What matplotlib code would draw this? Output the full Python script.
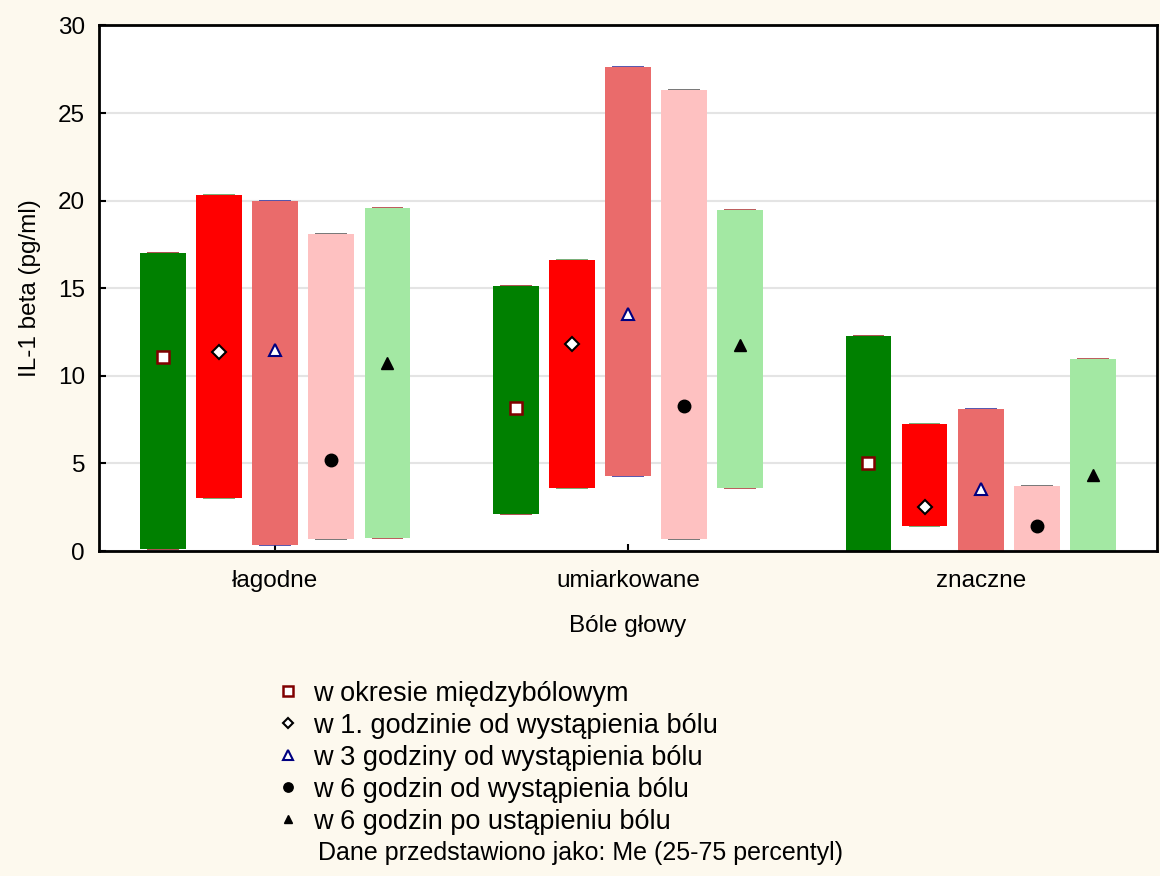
import numpy as np
import matplotlib
matplotlib.use('Agg')
import matplotlib.pyplot as plt

plt.rcParams['font.family'] = ['Liberation Sans', 'DejaVu Sans']

# Headache severity groups
groups = ['łagodne', 'umiarkowane', 'znaczne']

series_labels = [
    'w okresie międzybólowym',
    'w 1. godzinie od wystąpienia bólu',
    'w 3 godziny od wystąpienia bólu',
    'w 6 godzin od wystąpienia bólu',
    'w 6 godzin po ustąpieniu bólu',
]

# median, 25th and 75th percentile per series, one value per group
median = [
    [11.1, 8.15, 5.05],
    [11.35, 11.8, 2.5],
    [11.5, 13.5, 3.55],
    [5.2, 8.25, 1.4],
    [10.75, 11.75, 4.35],
]
p25 = [
    [0.1, 2.1, 0.0],
    [3.0, 3.6, 1.45],
    [0.35, 4.3, 0.0],
    [0.7, 0.7, 0.0],
    [0.75, 3.6, 0.0],
]
p75 = [
    [17.0, 15.1, 12.25],
    [20.3, 16.6, 7.25],
    [20.0, 27.6, 8.1],
    [18.1, 26.3, 3.7],
    [19.6, 19.45, 10.95],
]

bar_colors = ['#008000', '#ff0000', '#ea6b6b', '#fec1c1', '#a3e8a3']
cap_colors = ['#a03030', '#60a060', '#3a3aa0', '#606060', '#b04040']
marker_styles = [
    dict(marker='s', mfc='white', mec='#800000', ms=9, mew=1.8),
    dict(marker='D', mfc='white', mec='black', ms=7, mew=1.5),
    dict(marker='^', mfc='white', mec='#000080', ms=9, mew=1.5),
    dict(marker='o', mfc='black', mec='black', ms=9, mew=1),
    dict(marker='^', mfc='black', mec='black', ms=8, mew=1),
]

bg = '#fdf9ee'
fs = 17.5
fig = plt.figure(figsize=(11.6, 8.76), dpi=100, facecolor=bg)
ax = fig.add_axes([0.0853, 0.371, 0.9121, 0.600])
ax.set_facecolor('white')

x = np.arange(len(groups))
step = 0.159
width = 0.13
handles = []
for i in range(len(series_labels)):
    xs = x + (i - 2) * step
    lo = np.array(p25[i])
    hi = np.array(p75[i])
    # thin caps at the quartile ends, partly hidden behind the bar
    ax.hlines(np.concatenate([lo, hi]), np.tile(xs, 2) - 0.045, np.tile(xs, 2) + 0.045,
              colors=cap_colors[i], lw=1.2, zorder=1.5)
    ax.bar(xs, hi - lo, bottom=lo, width=width, color=bar_colors[i], zorder=2)
    ln, = ax.plot(xs, median[i], ls='none', zorder=3, label=series_labels[i],
                  **marker_styles[i])
    handles.append(ln)

ax.set_xlim(-0.5, 2.5)
ax.set_ylim(0, 30)
ax.set_yticks(np.arange(0, 31, 5))
ax.set_xticks(x)
ax.set_xticklabels(groups)
ax.yaxis.grid(True, color='#e4e4e4', lw=1.5, zorder=0)
ax.set_axisbelow(True)
ax.tick_params(direction='in', length=5, width=1.5, labelsize=fs)
ax.tick_params(axis='x', pad=14)
ax.tick_params(axis='y', pad=10)
for s in ax.spines.values():
    s.set_linewidth(2)

ax.set_xlabel('Bóle głowy', fontsize=fs, labelpad=16)
ax.set_ylabel('IL-1 beta (pg/ml)', fontsize=fs, labelpad=12)

leg = fig.legend(handles=handles, loc='upper left', bbox_to_anchor=(0.2297, 0.235),
                 frameon=False, fontsize=19.5, markerscale=0.75, handlelength=0.8,
                 handletextpad=0.52, labelspacing=0.22, borderaxespad=0)
fig.text(0.274, 0.026, 'Dane przedstawiono jako: Me (25-75 percentyl)',
         fontsize=18, va='center', ha='left')

fig.savefig('out.png', dpi=100, facecolor=bg)
